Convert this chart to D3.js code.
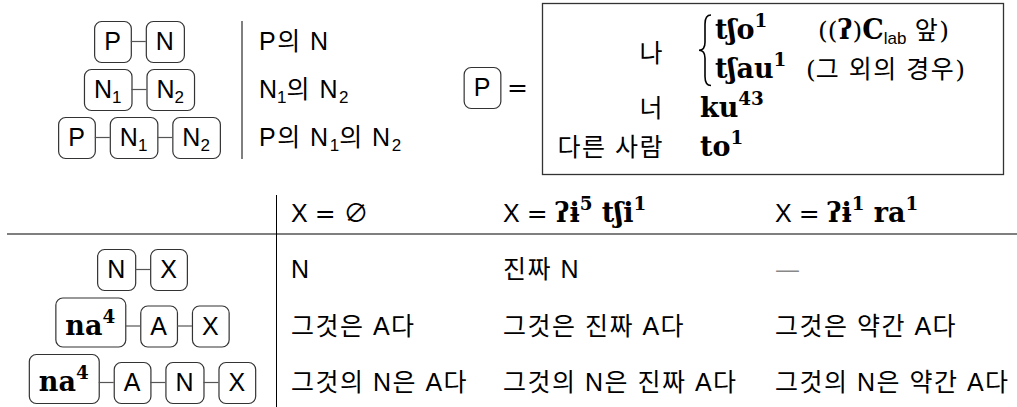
<!DOCTYPE html>
<html>
<head>
<meta charset="utf-8">
<script src="https://cdn.jsdelivr.net/npm/d3@7"></script>
<style>
  body { margin: 0; background: #fff; }
  text { white-space: pre; }
</style>
</head>
<body>
<script>
// markup: *bold serif*  ~roman serif~  ^{sup}  _{sub}
var topDiagrams = [["P", "N"], ["N_{1}", "N_{2}"], ["P", "N_{1}", "N_{2}"]];
var topGlosses = ["P의 N", "N_{1}의 N_{2}", "P의 N_{1}의 N_{2}"];

var pronounLabels = ["나", "너", "다른 사람"];
var pronounForms = [["*tʃo^{1}*", "*tʃau^{1}*"], ["*ku^{43}*"], ["*to^{1}*"]];
var pronounNotes = ["~((~*ʔ*~)~*C*_{lab} 앞~)~", "~(~그 외의 경우~)~"];

var colHeaders = ["X ~= ∅~", "X ~=~ *ʔɨ^{5} tʃi^{1}*", "X ~=~ *ʔɨ^{1} ra^{1}*"];
var rowDiagrams = [["N", "X"], ["*na^{4}*", "A", "X"], ["*na^{4}*", "A", "N", "X"]];
var cellGlosses = [
    ["N", "진짜 N", "—"],
    ["그것은 A다", "그것은 진짜 A다", "그것은 약간 A다"],
    ["그것의 N은 A다", "그것의 N은 진짜 A다", "그것의 N은 약간 A다"]
];

var width = 1017;
var height = 407;
var FS = 25, FSB = 27;
var SANS = "'Liberation Sans','Noto Sans CJK KR',sans-serif";
var SERIF = "'DejaVu Serif','Liberation Serif','Noto Sans CJK KR',serif";
var BOLD = "'DejaVu Serif','Noto Sans CJK KR',serif";
var hangul = /[\uAC00-\uD7A3]/;

var svg = d3.select("body")
    .append("svg")
    .attr("width", width)
    .attr("height", height);

function parse(s) {
    var segs = [], style = "sans", buf = "", i = 0;
    function flush() {
        if (buf) segs.push({ text: buf, style: style, pos: "base" });
        buf = "";
    }
    while (i < s.length) {
        var c = s[i];
        if (c == "*") { flush(); style = style == "bold" ? "sans" : "bold"; i++; }
        else if (c == "~") { flush(); style = style == "roman" ? "sans" : "roman"; i++; }
        else if ((c == "^" || c == "_") && s[i + 1] == "{") {
            flush();
            var j = s.indexOf("}", i);
            segs.push({ text: s.slice(i + 2, j), style: style, pos: c == "^" ? "sup" : "sub" });
            i = j + 1;
        }
        else { buf += c; i++; }
    }
    flush();
    return segs;
}

function rich(g, str, x, y, anchor) {
    var t = g.append("text")
        .attr("x", x)
        .attr("y", y)
        .attr("text-anchor", anchor || "start")
        .attr("fill", "#000");
    var cur = 0;
    parse(str).forEach(function (s) {
        var base = s.style == "bold" ? FSB : FS;
        var off = s.pos == "sup" ? -0.43 * base : (s.pos == "sub" ? 0.2 * base : 0);
        var ts = t.append("tspan")
            .attr("font-family", s.style == "bold" ? BOLD : (s.style == "roman" ? SERIF : SANS))
            .attr("font-weight", s.style == "bold" ? "bold" : "normal")
            .attr("font-size", s.pos == "base" ? base : base * 0.68)
            .attr("dy", off - cur)
            .text(s.text);
        if (hangul.test(s.text)) ts.attr("letter-spacing", 1.5);
        cur = off;
    });
    return t;
}

// row of rounded boxes joined by short lines, centred on cx, text baseline at y
function boxRow(tokens, cx, y) {
    var g = svg.append("g");
    var pad = 10, gap = 15;
    var items = tokens.map(function (tok) {
        var t = rich(g, tok, 0, y);
        var w = t.node().getComputedTextLength();
        return { t: t, w: w + 2 * pad, tall: tok.indexOf("^") >= 0 };
    });
    var total = d3.sum(items, d => d.w) + gap * (items.length - 1);
    var x0 = cx - total / 2;
    items.forEach(function (d, i) {
        var top = d.tall ? y - 37 : y - 29;
        g.insert("rect", "text")
            .attr("x", x0 + 0.5)
            .attr("y", top + 0.5)
            .attr("width", d.w)
            .attr("height", y + 12 - top)
            .attr("rx", 7)
            .attr("fill", "none")
            .attr("stroke", "#333")
            .attr("stroke-width", 1.2);
        d.t.attr("x", x0 + pad);
        if (i > 0) {
            g.append("line")
                .attr("x1", x0 - gap).attr("x2", x0)
                .attr("y1", y - 8.5).attr("y2", y - 8.5)
                .attr("stroke", "#555")
                .attr("stroke-width", 1.2);
        }
        x0 += d.w + gap;
    });
}

// ---- top left: box chains and glosses
var yTop = d3.scalePoint().domain(d3.range(topDiagrams.length)).range([50, 146]);
topDiagrams.forEach(function (row, i) {
    boxRow(row, 139, yTop(i));
    rich(svg, topGlosses[i], 259, yTop(i));
});
svg.append("line")
    .attr("x1", 242).attr("x2", 242)
    .attr("y1", 21).attr("y2", 159)
    .attr("stroke", "#000").attr("stroke-width", 1);

// ---- top right: P = [table]
boxRow(["P"], 482, 96);
rich(svg, "~=~", 507, 96);
svg.append("rect")
    .attr("x", 542.5).attr("y", 3.5)
    .attr("width", 461).attr("height", 171)
    .attr("fill", "none")
    .attr("stroke", "#333").attr("stroke-width", 1.3);

var yLine = d3.scaleLinear().domain([0, 1]).range([39, 77.5]);
var lineStart = 0;
pronounLabels.forEach(function (lab, i) {
    var forms = pronounForms[i];
    var extra = i > 0 ? 1 : 0;
    var mid = lineStart + (forms.length - 1) / 2;
    var yl = yLine(mid) + extra + (forms.length > 1 ? 4 : 0);
    rich(svg, lab, 664, yl, "end");
    var xf = forms.length > 1 ? 715 : 700;
    forms.forEach(function (f, k) {
        var yy = yLine(lineStart + k) + extra;
        rich(svg, f, xf, yy);
        if (forms.length > 1) rich(svg, pronounNotes[k], k == 0 ? 818 : 806, yy);
    });
    if (forms.length > 1) {
        var y1 = yLine(lineStart) - 24, y2 = yLine(lineStart + forms.length - 1) + 8;
        var ym = (y1 + y2) / 2, xt = 699, xa = 711, xm = 705;
        svg.append("path")
            .attr("d", "M" + xa + "," + y1 + " Q" + xm + "," + y1 + " " + xm + "," + (y1 + 9) +
                " L" + xm + "," + (ym - 8) + " Q" + xm + "," + ym + " " + xt + "," + ym +
                " Q" + xm + "," + ym + " " + xm + "," + (ym + 8) +
                " L" + xm + "," + (y2 - 9) + " Q" + xm + "," + y2 + " " + xa + "," + y2)
            .attr("fill", "none")
            .attr("stroke", "#000")
            .attr("stroke-width", 1.6);
    }
    lineStart += forms.length;
});

// ---- bottom table
var xCol = d3.scaleOrdinal().domain(d3.range(colHeaders.length)).range([291, 503, 775]);
var yRow = d3.scalePoint().domain(d3.range(rowDiagrams.length)).range([278, 391]);

colHeaders.forEach(function (h, j) {
    rich(svg, h, xCol(j), 222);
});
svg.append("line")
    .attr("x1", 7).attr("x2", width)
    .attr("y1", 234).attr("y2", 234)
    .attr("stroke", "#555").attr("stroke-width", 1.6);
svg.append("line")
    .attr("x1", 276.5).attr("x2", 276.5)
    .attr("y1", 195).attr("y2", height)
    .attr("stroke", "#000").attr("stroke-width", 1);

rowDiagrams.forEach(function (row, i) {
    boxRow(row, 142, yRow(i));
    cellGlosses[i].forEach(function (c, j) {
        var t = rich(svg, c, xCol(j), yRow(i));
        if (c == "—") t.selectAll("tspan").attr("fill", "#888").attr("font-family", SERIF);
    });
});
</script>
</body>
</html>
